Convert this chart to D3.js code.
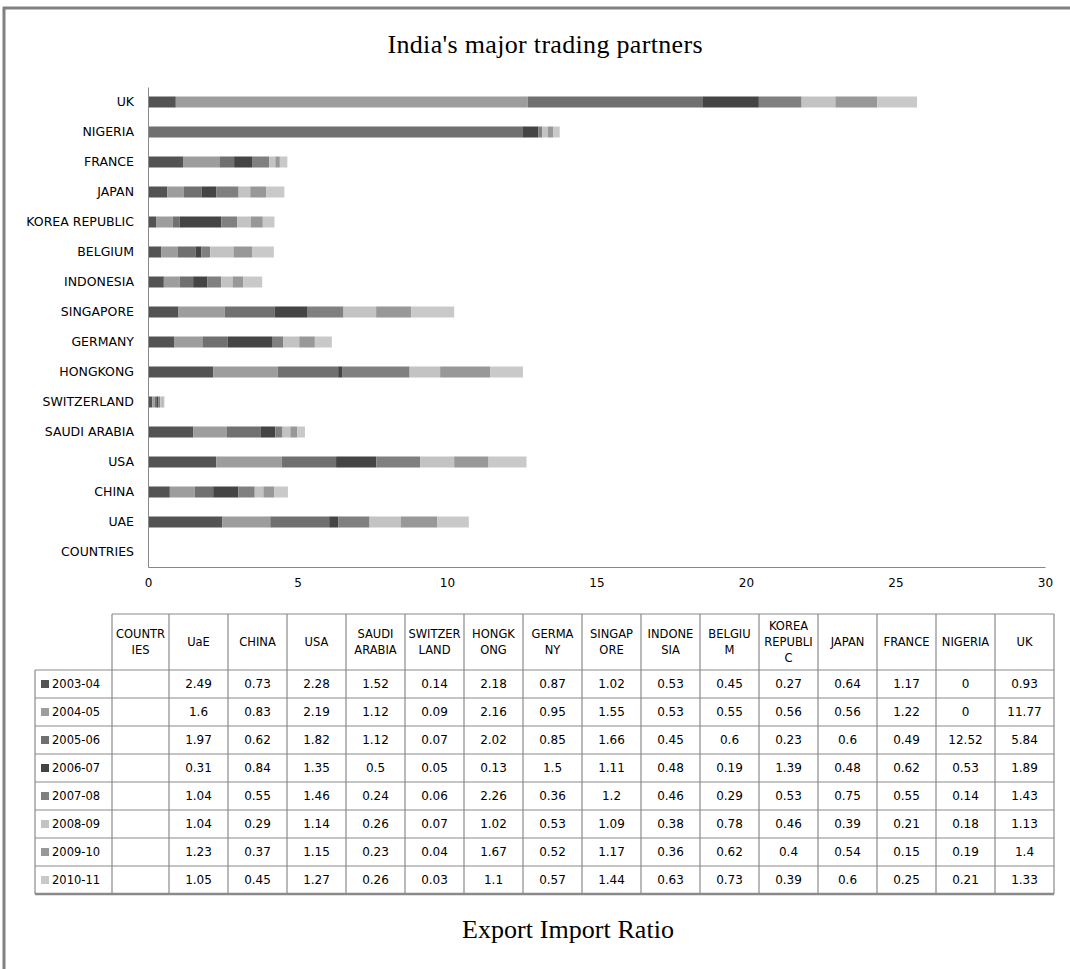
<!DOCTYPE html>
<html>
<head>
<meta charset="utf-8">
<script src="https://cdn.jsdelivr.net/npm/d3@7"></script>
<style>
  body { margin: 0; background: #fff; }
  svg text { font-family: "DejaVu Sans", sans-serif; fill: #000; }
  .serif { font-family: "Liberation Serif", serif !important; }
</style>
</head>
<body>
<div id="chart-area"></div>
<script>
const countries = ["UAE", "CHINA", "USA", "SAUDI ARABIA", "SWITZERLAND", "HONGKONG", "GERMANY",
  "SINGAPORE", "INDONESIA", "BELGIUM", "KOREA REPUBLIC", "JAPAN", "FRANCE", "NIGERIA", "UK"];
const tableHeads = [["UaE"], ["CHINA"], ["USA"], ["SAUDI", "ARABIA"], ["SWITZER", "LAND"], ["HONGK", "ONG"],
  ["GERMA", "NY"], ["SINGAP", "ORE"], ["INDONE", "SIA"], ["BELGIU", "M"], ["KOREA", "REPUBLI", "C"],
  ["JAPAN"], ["FRANCE"], ["NIGERIA"], ["UK"]];
const years = ["2003-04", "2004-05", "2005-06", "2006-07", "2007-08", "2008-09", "2009-10", "2010-11"];

const y2003 = [2.49, 0.73, 2.28, 1.52, 0.14, 2.18, 0.87, 1.02, 0.53, 0.45, 0.27, 0.64, 1.17, 0, 0.93];
const y2004 = [1.6, 0.83, 2.19, 1.12, 0.09, 2.16, 0.95, 1.55, 0.53, 0.55, 0.56, 0.56, 1.22, 0, 11.77];
const y2005 = [1.97, 0.62, 1.82, 1.12, 0.07, 2.02, 0.85, 1.66, 0.45, 0.6, 0.23, 0.6, 0.49, 12.52, 5.84];
const y2006 = [0.31, 0.84, 1.35, 0.5, 0.05, 0.13, 1.5, 1.11, 0.48, 0.19, 1.39, 0.48, 0.62, 0.53, 1.89];
const y2007 = [1.04, 0.55, 1.46, 0.24, 0.06, 2.26, 0.36, 1.2, 0.46, 0.29, 0.53, 0.75, 0.55, 0.14, 1.43];
const y2008 = [1.04, 0.29, 1.14, 0.26, 0.07, 1.02, 0.53, 1.09, 0.38, 0.78, 0.46, 0.39, 0.21, 0.18, 1.13];
const y2009 = [1.23, 0.37, 1.15, 0.23, 0.04, 1.67, 0.52, 1.17, 0.36, 0.62, 0.4, 0.54, 0.15, 0.19, 1.4];
const y2010 = [1.05, 0.45, 1.27, 0.26, 0.03, 1.1, 0.57, 1.44, 0.63, 0.73, 0.39, 0.6, 0.25, 0.21, 1.33];
const series = [y2003, y2004, y2005, y2006, y2007, y2008, y2009, y2010];

const xTicks = [0, 5, 10, 15, 20, 25, 30];
const colors = ["#535353", "#9d9d9d", "#707070", "#444444", "#808080", "#c3c3c3", "#989898", "#c9c9c9"];

const W = 1070, H = 969;
const svg = d3.select("#chart-area").append("svg")
  .attr("width", W).attr("height", H);

// frame (top + left only)
svg.append("line").attr("x1", 3).attr("x2", W).attr("y1", 8).attr("y2", 8)
  .attr("stroke", "#808080").attr("stroke-width", 3);
svg.append("line").attr("x1", 4).attr("x2", 4).attr("y1", 7).attr("y2", H)
  .attr("stroke", "#808080").attr("stroke-width", 3);

svg.append("text").attr("class", "serif")
  .attr("x", 545).attr("y", 53).attr("text-anchor", "middle")
  .style("font-size", "26px")
  .attr("textLength", 315)
  .text("India's major trading partners");

// Bar chart
const rows = countries.map((c, i) => {
  const r = { country: c };
  years.forEach((yr, j) => { r[yr] = series[j][i]; });
  return r;
});

const yDomain = ["COUNTRIES", ...countries].reverse();
const xScale = d3.scaleLinear().domain([0, 30]).range([148, 1045]);
const yScale = d3.scaleBand().domain(yDomain).range([87, 567]);
const barH = 11;

const stack = d3.stack().keys(years)(rows);

svg.append("g").selectAll("g")
  .data(stack)
  .join("g")
    .attr("fill", (d, i) => colors[i])
  .selectAll("rect")
  .data(d => d)
  .join("rect")
    .attr("x", d => xScale(d[0]))
    .attr("y", d => yScale(d.data.country) + yScale.bandwidth() / 2 - barH / 2)
    .attr("width", d => xScale(d[1]) - xScale(d[0]))
    .attr("height", barH);

// axes
const xAxis = svg.append("g")
  .attr("transform", `translate(0,567)`)
  .call(d3.axisBottom(xScale).tickValues(xTicks).tickSize(0).tickPadding(11));
xAxis.select(".domain").attr("stroke", "#888");
xAxis.selectAll("text").style("font-size", "12px").style("font-family", "DejaVu Sans");

const yAxis = svg.append("g")
  .attr("transform", `translate(148,0)`)
  .call(d3.axisLeft(yScale).tickSize(0).tickPadding(14));
yAxis.select(".domain").attr("stroke", "#888");
yAxis.selectAll("text").style("font-size", "12.5px").style("font-family", "DejaVu Sans");

// Data table
const tLeft = 35, tTop = 614, headH = 56, rowH = 28;
const colEdges = [tLeft, 112, 169];
countries.forEach((c, i) => colEdges.push(169 + (i + 1) * 59));
const tRight = colEdges[colEdges.length - 1];
const tBottom = tTop + headH + rowH * years.length;

const table = svg.append("g");
const lineCol = "#8a8a8a";

// horizontal lines
const hLines = [tTop, tTop + headH, ...years.map((y, i) => tTop + headH + rowH * (i + 1))];
table.selectAll(".hl").data(hLines).join("line")
  .attr("x1", (d, i) => i === 0 ? colEdges[1] : tLeft)
  .attr("x2", tRight)
  .attr("y1", d => d).attr("y2", d => d)
  .attr("stroke", lineCol)
  .attr("stroke-width", (d, i) => i === hLines.length - 1 ? 2.5 : 1.2);

// vertical lines
table.selectAll(".vl").data(colEdges).join("line")
  .attr("x1", d => d).attr("x2", d => d)
  .attr("y1", (d, i) => i === 0 ? tTop + headH : tTop)
  .attr("y2", tBottom)
  .attr("stroke", lineCol).attr("stroke-width", 1.2);

// header texts
const heads = [["COUNTR", "IES"], ...tableHeads];
heads.forEach((lines, i) => {
  const cx = (colEdges[i + 1] + colEdges[i + 2]) / 2;
  const y0 = tTop + headH / 2 - (lines.length - 1) * 8;
  const t = table.append("text").attr("text-anchor", "middle").style("font-size", "11.5px");
  lines.forEach((l, k) => {
    t.append("tspan").attr("x", cx).attr("y", y0 + k * 16 + 4).text(l);
  });
});

// legend rows
years.forEach((yr, j) => {
  const cy = tTop + headH + rowH * j + rowH / 2;
  table.append("rect").attr("x", 41).attr("y", cy - 4).attr("width", 8).attr("height", 8)
    .attr("fill", colors[j]);
  table.append("text").attr("x", 52).attr("y", cy + 4).style("font-size", "11.5px").text(yr);
  series[j].forEach((v, i) => {
    table.append("text")
      .attr("x", (colEdges[i + 2] + colEdges[i + 3]) / 2)
      .attr("y", cy + 4)
      .attr("text-anchor", "middle")
      .style("font-size", "12px")
      .text(v);
  });
});

svg.append("text").attr("class", "serif")
  .attr("x", 568).attr("y", 938).attr("text-anchor", "middle")
  .style("font-size", "26px")
  .attr("textLength", 212)
  .text("Export Import Ratio");
</script>
</body>
</html>
